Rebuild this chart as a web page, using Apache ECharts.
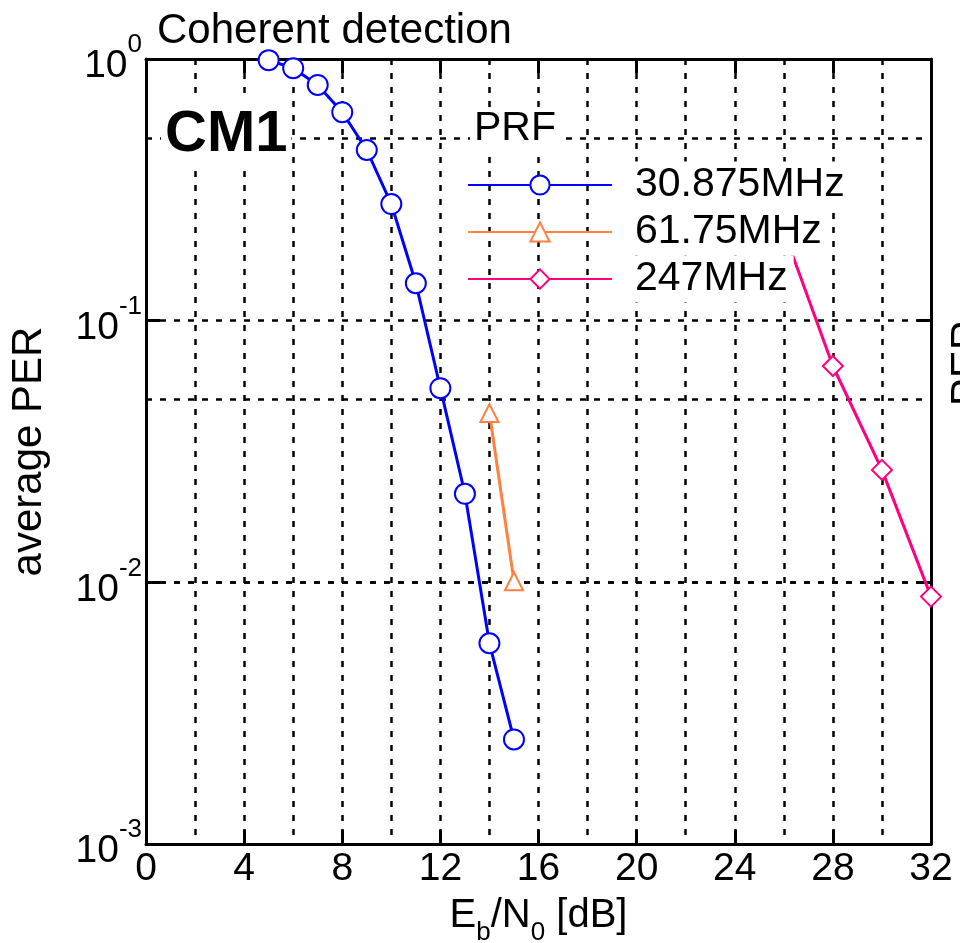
<!DOCTYPE html>
<html><head><meta charset="utf-8">
<script src="https://cdn.jsdelivr.net/npm/echarts@6/dist/echarts.min.js"></script>
<style>html,body{margin:0;padding:0;background:#fff}#c{width:960px;height:943px}</style>
</head><body><div id="c"></div>
<script>
// ---- data ----
const seriesNames = ['30.875MHz', '61.75MHz', '247MHz'];
const xBlue = [5, 6, 7, 8, 9, 10, 11, 12, 13, 14, 15];
const perBlue = [0.99, 0.922, 0.796, 0.626, 0.449, 0.279, 0.139, 0.0552, 0.0218, 0.00585, 0.00251];
const xOrange = [14, 15];
const perOrange = [0.0444, 0.0101];
const xPink = [26, 28, 30, 32];
const perPink = [0.22, 0.0671, 0.0269, 0.00882];
const xRange = [0, 32];
const xTickStep = 4;
const yRange = [0.001, 1];
const yMinorGrid = [0.5, 0.05, 0.005];
const titleText = 'Coherent detection';
const legendTitle = 'PRF';
const panelLabel = 'CM1';

const FONT = 'Liberation Sans, Arial, Helvetica, sans-serif';
const zip = (xs, ys) => xs.map((x, i) => [x, ys[i]]);
const gridLine = { color: '#000', width: 2.5, type: [6, 8] };

const chart = echarts.init(document.getElementById('c'), null, { renderer: 'canvas' });

const commonX = {
  type: 'value', min: xRange[0], max: xRange[1], interval: xTickStep,
  axisLine: { show: true, onZero: false, lineStyle: { color: '#000', width: 3 } },
  axisTick: { show: true, inside: true, length: 14, lineStyle: { color: '#000', width: 3 } }
};
const commonY = {
  type: 'log', logBase: 10, min: yRange[0], max: yRange[1],
  axisLine: { show: true, onZero: false, lineStyle: { color: '#000', width: 3 } },
  axisTick: { show: true, inside: true, length: 14, lineStyle: { color: '#000', width: 3 } }
};

const option = {
  backgroundColor: '#fff',
  animation: false,
  grid: { left: 146, top: 59, width: 785, height: 785, outerBoundsMode: 'none', containLabel: false },
  xAxis: [
    Object.assign({}, commonX, {
      position: 'bottom',
      axisLabel: { color: '#000', fontSize: 39, fontFamily: FONT, margin: 6 },
      splitLine: { show: true, lineStyle: gridLine },
      minorTick: { show: false, splitNumber: 2 },
      minorSplitLine: { show: true, lineStyle: gridLine },
      name: '{n|E}{sub|b}{n|/N}{sub|0}{n| [dB]}',
      nameLocation: 'middle', nameGap: 52, nameMoveOverlap: false,
      nameTextStyle: {
        color: '#000', fontFamily: FONT,
        rich: {
          n: { fontSize: 40, lineHeight: 40, verticalAlign: 'top', color: '#000', fontFamily: FONT },
          sub: { fontSize: 26, lineHeight: 50, verticalAlign: 'bottom', color: '#000', fontFamily: FONT }
        }
      }
    }),
    Object.assign({}, commonX, {
      position: 'top',
      axisLabel: { show: false },
      splitLine: { show: false }
    })
  ],
  yAxis: [
    Object.assign({}, commonY, {
      position: 'left',
      axisLabel: {
        margin: 4,
        formatter: v => '{b|10}{s|' + Math.round(Math.log10(v)) + '}',
        rich: {
          b: { fontSize: 39, lineHeight: 54, verticalAlign: 'bottom', color: '#000', fontFamily: FONT },
          s: { fontSize: 26, lineHeight: 26, verticalAlign: 'top', color: '#000', fontFamily: FONT }
        }
      },
      splitLine: { show: true, lineStyle: gridLine },
      name: 'average PER', nameLocation: 'middle', nameGap: 96, nameMoveOverlap: false,
      nameTextStyle: { color: '#000', fontSize: 42, fontFamily: FONT }
    }),
    Object.assign({}, commonY, {
      position: 'right',
      axisLabel: { show: false },
      splitLine: { show: false }
    })
  ],
  legend: {
    data: seriesNames,
    orient: 'vertical', left: 467, top: 161.5, padding: 0,
    itemWidth: 144, itemHeight: 24, itemGap: 0,
    selectedMode: false,
    textStyle: {
      color: '#000', fontSize: 41, fontFamily: FONT, lineHeight: 43,
      backgroundColor: '#fff', padding: [2, 6, 2, 18]
    }
  },
  series: [
    {
      name: seriesNames[0], type: 'line', xAxisIndex: 0, yAxisIndex: 0,
      data: zip(xBlue, perBlue), symbol: 'emptyCircle', symbolSize: 20,
      lineStyle: { color: '#0000ff', width: 3 },
      itemStyle: { color: '#0000ff', borderWidth: 3 },
      z: 3,
      markLine: {
        silent: true, symbol: 'none', z: 1, label: { show: false },
        lineStyle: { color: '#000', width: 2.5, type: [6, 8] },
        emphasis: { disabled: true },
        data: yMinorGrid.map(v => ({ yAxis: v }))
      }
    },
    {
      name: seriesNames[1], type: 'line', xAxisIndex: 0, yAxisIndex: 0,
      data: zip(xOrange, perOrange), symbol: 'emptyTriangle', symbolSize: 18,
      lineStyle: { color: '#ff8040', width: 3 },
      itemStyle: { color: '#ff8040', borderWidth: 3 }, z: 3
    },
    {
      name: seriesNames[2], type: 'line', xAxisIndex: 0, yAxisIndex: 0,
      data: zip(xPink, perPink), symbol: 'emptyDiamond', symbolSize: 20,
      lineStyle: { color: '#ff0080', width: 3 },
      itemStyle: { color: '#ff0080', borderWidth: 3 }, z: 3
    }
  ],
  graphic: [
    { type: 'text', left: 157, top: 10, z: 100,
      style: { text: titleText, fontSize: 42, fontFamily: FONT, fill: '#000' } },
    { type: 'text', x: 470, y: 129, z: 100,
      style: { text: legendTitle, fontSize: 41, fontFamily: FONT, fill: '#000', verticalAlign: 'middle',
               backgroundColor: '#fff', padding: [0, 4, 0, 4] } },
    { type: 'text', x: 161, y: 135, z: 100,
      style: { text: panelLabel, fontSize: 58, fontWeight: 'bold', fontFamily: FONT, fill: '#000',
               verticalAlign: 'middle', backgroundColor: '#fff', padding: [6, 4, 4, 4] } },
    { type: 'text', x: 968, y: 363, rotation: Math.PI / 2, z: 100,
      style: { text: 'PER', fontSize: 42, fontFamily: FONT, fill: '#000', align: 'center', verticalAlign: 'middle' } }
  ]
};
chart.setOption(option);
</script>
</body></html>
